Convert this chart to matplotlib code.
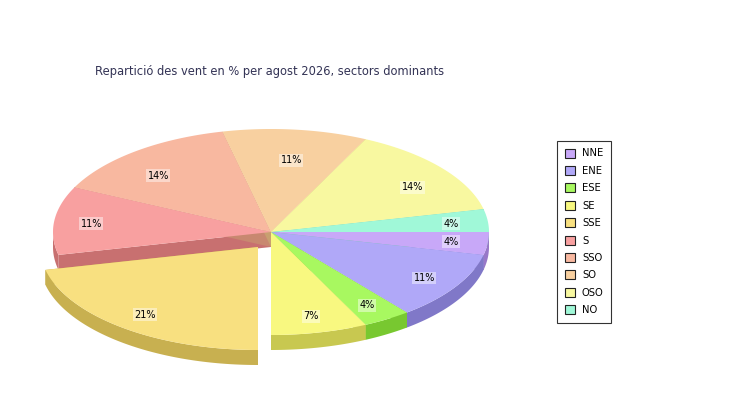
import numpy as np
import matplotlib.pyplot as plt
from matplotlib.patches import Polygon, Patch

# wind sectors (counts out of 28), clockwise from east
sectors = ['NNE', 'ENE', 'ESE', 'SE', 'SSE', 'S', 'SSO', 'SO', 'OSO', 'NO']
counts = [1, 3, 1, 2, 6, 3, 4, 3, 4, 1]
colors = ['#c8a8f8', '#b0a8f8', '#a8f860', '#f8f880', '#f8e080',
          '#f8a0a0', '#f8b8a0', '#f8d0a0', '#f8f8a0', '#a0f8d8']
exploded = 'SSE'
title = 'Repartició des vent en % per agost 2026, sectors dominants'

# layout, in pixels
cx, cy = 271, 232
rx, ry = 218, 103
depth = 15
explode_off = (-13, 15)


def darker(c, amount=48):
    r, g, b = [int(c[i:i + 2], 16) for i in (1, 3, 5)]
    return '#%02x%02x%02x' % tuple(max(v - amount, 0) for v in (r, g, b))


def rim(t, ox=0, oy=0, dz=0):
    return np.column_stack([cx + ox + rx * np.cos(t), cy + oy + dz + ry * np.sin(t)])


fig = plt.figure(figsize=(7.5, 4), dpi=100)
ax = fig.add_axes([0, 0, 1, 1])
ax.set_xlim(0, 750)
ax.set_ylim(400, 0)
ax.axis('off')

frac = np.array(counts) / sum(counts)
edges = np.concatenate([[0], np.cumsum(frac)]) * 2 * np.pi


def draw_slice(i, z0):
    a0, a1 = edges[i], edges[i + 1]
    ox, oy = explode_off if sectors[i] == exploded else (0, 0)
    top = colors[i]
    side = darker(top)
    # radial walls
    for a in (a0, a1):
        p = rim(np.array([a]), ox, oy)[0]
        c = np.array([cx + ox, cy + oy])
        wall = [c, p, p + [0, depth], c + [0, depth]]
        ax.add_patch(Polygon(wall, closed=True, fc=side, ec='none', zorder=z0))
    # outer wall, front half only
    lo, hi = max(a0, 0), min(a1, np.pi)
    if hi > lo:
        t = np.linspace(lo, hi, 80)
        pts = np.vstack([rim(t, ox, oy), rim(t[::-1], ox, oy, depth)])
        ax.add_patch(Polygon(pts, closed=True, fc=side, ec='none', zorder=z0 + 1))
    # top face
    t = np.linspace(a0, a1, 120)
    pts = np.vstack([[cx + ox, cy + oy], rim(t, ox, oy)])
    ax.add_patch(Polygon(pts, closed=True, fc=top, ec='none', zorder=z0 + 2))
    # label
    mid = (a0 + a1) / 2
    fy = 0.70 if np.sin(mid) < 0 else 0.84
    lx = cx + ox + 0.83 * rx * np.cos(mid)
    ly = cy + oy + fy * ry * np.sin(mid)
    ax.text(lx, ly, '%d%%' % round(frac[i] * 100), ha='center', va='center',
            fontsize=7, color='black', zorder=10,
            bbox=dict(boxstyle='square,pad=0.15', fc='white', ec='none', alpha=0.45))


for i, s in enumerate(sectors):
    if s != exploded:
        draw_slice(i, 1)
for i, s in enumerate(sectors):
    if s == exploded:
        draw_slice(i, 5)

fig.text(95 / 750, 1 - 72 / 400, title, fontsize=8.3, color='#333355',
         ha='left', va='center')

handles = [Patch(facecolor=c, edgecolor='#222222', linewidth=0.8) for c in colors]
leg = fig.legend(handles, sectors, loc='upper left',
                 bbox_to_anchor=(557 / 750, 1 - 141 / 400), borderaxespad=0,
                 fontsize=7.2, frameon=True, fancybox=False, handlelength=1.0,
                 handleheight=1.0, labelspacing=0.74, handletextpad=0.75,
                 borderpad=0.75)
leg.get_frame().set_edgecolor('black')
leg.get_frame().set_linewidth(0.8)

fig.savefig('out.png', dpi=100)
